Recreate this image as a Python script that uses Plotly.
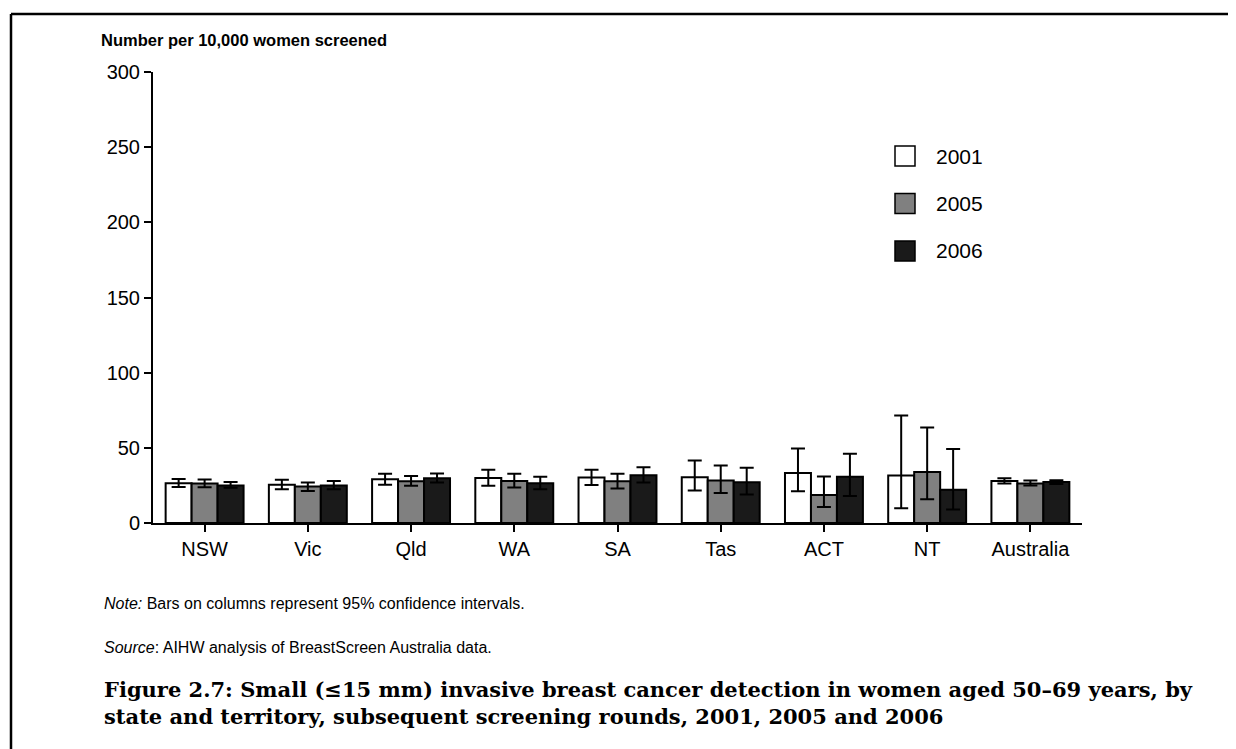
import plotly.graph_objects as go

categories = ["NSW", "Vic", "Qld", "WA", "SA", "Tas", "ACT", "NT", "Australia"]
years = ["2001", "2005", "2006"]

v2001 = [26.5, 25.5, 29.1, 30.0, 30.2, 30.4, 33.3, 31.6, 27.9]
lo2001 = [24.0, 22.4, 25.5, 24.7, 25.3, 21.6, 21.1, 9.8, 26.3]
hi2001 = [29.3, 28.7, 32.7, 35.5, 35.5, 41.6, 49.6, 71.5, 29.7]

v2005 = [26.2, 24.2, 27.8, 28.0, 27.8, 28.2, 18.7, 34.0, 26.3]
lo2005 = [23.8, 21.3, 24.7, 23.6, 22.9, 20.0, 10.7, 15.8, 25.0]
hi2005 = [28.9, 26.9, 31.3, 32.7, 32.7, 38.2, 30.9, 63.5, 28.3]

v2006 = [24.9, 24.9, 29.8, 26.4, 31.8, 27.1, 30.7, 22.2, 27.2]
lo2006 = [23.5, 22.5, 27.0, 22.5, 27.0, 19.0, 18.0, 9.0, 25.9]
hi2006 = [27.3, 28.0, 32.9, 30.7, 37.1, 36.7, 46.0, 49.3, 28.5]

series = [
    (years[0], v2001, lo2001, hi2001, "#ffffff"),
    (years[1], v2005, lo2005, hi2005, "#808080"),
    (years[2], v2006, lo2006, hi2006, "#1a1a1a"),
]

# page has an 8px body margin: screen = figure + 8
OFF = 8
W, H = 1236, 749
L, T = 153 - OFF, 72 - OFF
R = W - (1082 - OFF)
B = H - (523 - OFF)
PW, PH = W - L - R, H - T - B


def px(x):  # screen pixel -> paper
    return (x - OFF - L) / PW


def py(y):
    return (H - B - (y - OFF)) / PH


fig = go.Figure()
for name, vals, lo, hi, col in series:
    fig.add_trace(go.Bar(
        x=categories, y=vals, name=name,
        marker=dict(color=col, line=dict(color="black", width=2)),
        error_y=dict(type="data", symmetric=False,
                     array=[h - v for h, v in zip(hi, vals)],
                     arrayminus=[v - l for v, l in zip(vals, lo)],
                     color="black", thickness=2, width=7),
        showlegend=False,
    ))

font_sans = "Liberation Sans, Arial, sans-serif"

fig.update_layout(
    width=W, height=H,
    margin=dict(l=L, r=R, t=T, b=B),
    paper_bgcolor="white", plot_bgcolor="white",
    barmode="group", bargap=0.245, bargroupgap=0,
    font=dict(family=font_sans, color="black", size=20),
    xaxis=dict(showline=True, linecolor="black", linewidth=2,
               ticks="outside", ticklen=7, tickwidth=1.5, tickcolor="black",
               tickfont=dict(size=20), showgrid=False, zeroline=False),
    yaxis=dict(range=[0, 300], tickvals=[0, 50, 100, 150, 200, 250, 300],
               showline=True, linecolor="black", linewidth=2,
               ticks="outside", ticklen=7, tickwidth=1.5, tickcolor="black",
               tickfont=dict(size=20), showgrid=False, zeroline=False),
)

shapes = []
annotations = []

# frame (top and left edges visible)
shapes.append(dict(type="line", xref="paper", yref="paper",
                   x0=px(11), x1=px(1260), y0=py(14), y1=py(14),
                   line=dict(color="black", width=2.5)))
shapes.append(dict(type="line", xref="paper", yref="paper",
                   x0=px(11), x1=px(11), y0=py(14), y1=py(780),
                   line=dict(color="black", width=2.5)))

# y-axis title
annotations.append(dict(text="<b>Number per 10,000 women screened</b>",
                        xref="paper", yref="paper", x=px(99), y=py(40),
                        xanchor="left", yanchor="middle", showarrow=False,
                        font=dict(size=16.5, family=font_sans)))

# manual legend
leg_y = [156, 203.5, 251]
for (name, _, _, _, col), yy in zip(series, leg_y):
    shapes.append(dict(type="rect", xref="paper", yref="paper",
                       x0=px(895), x1=px(915), y0=py(yy - 10), y1=py(yy + 10),
                       fillcolor=col, line=dict(color="black", width=1.5)))
    annotations.append(dict(text=name, xref="paper", yref="paper",
                            x=px(934), y=py(yy), xanchor="left", yanchor="middle",
                            showarrow=False, font=dict(size=21, family=font_sans)))

# notes
annotations.append(dict(text="<i>Note:</i> Bars on columns represent 95% confidence intervals.",
                        xref="paper", yref="paper", x=px(102), y=py(603),
                        xanchor="left", yanchor="middle", showarrow=False,
                        font=dict(size=16, family=font_sans)))
annotations.append(dict(text="<i>Source</i>: AIHW analysis of BreastScreen Australia data.",
                        xref="paper", yref="paper", x=px(102), y=py(647),
                        xanchor="left", yanchor="middle", showarrow=False,
                        font=dict(size=16, family=font_sans)))
annotations.append(dict(text="<b>Figure 2.7: Small (\u226415 mm) invasive breast cancer detection in women aged 50\u201369 years, by<br>state and territory, subsequent screening rounds, 2001, 2005 and 2006</b>",
                        xref="paper", yref="paper", x=px(102), y=py(703),
                        xanchor="left", yanchor="middle", align="left", showarrow=False,
                        font=dict(size=21, family="DejaVu Serif, serif")))

fig.update_layout(shapes=shapes, annotations=annotations)
fig.write_html("out.html")
